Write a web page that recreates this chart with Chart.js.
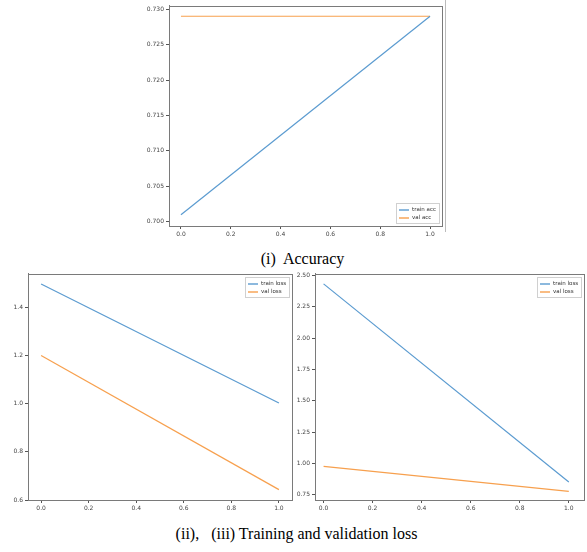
<!DOCTYPE html>
<html>
<head>
<meta charset="utf-8">
<script src="https://cdn.jsdelivr.net/npm/chart.js@4.4.1/dist/chart.umd.min.js"></script>
<style>
    body { margin: 0; background: #fff; width: 587px; height: 552px; position: relative; overflow: hidden; }
    canvas { position: absolute; }
    .caption { position: absolute; left: 0; width: 587px; text-align: center; font-family: "Liberation Serif", serif; font-size: 16px; color: #000; white-space: pre; }
    .edge { position: absolute; left: 445px; top: 0; width: 1px; height: 232px; background: #bbb; }
</style>
</head>
<body>
<canvas id="accChart" width="310" height="240" style="left:140px; top:0px;"></canvas>
<div class="edge"></div>
<div class="caption" style="top:250px; left:9px;">(i)  Accuracy</div>
<canvas id="lossChartA" width="295" height="244" style="left:0px; top:268px;"></canvas>
<canvas id="lossChartB" width="292" height="244" style="left:295px; top:268px;"></canvas>
<div class="caption" style="top:525px; left:3px;">(ii),   (iii) Training and validation loss</div>
<script>
const epochs = [0, 1];
const xTicks = [0, 0.2, 0.4, 0.6, 0.8, 1.0];

const trainAcc = [0.701, 0.729];
const valAcc = [0.729, 0.729];
const accTicks = [0.700, 0.705, 0.710, 0.715, 0.720, 0.725, 0.730];

const trainLossA = [1.497, 1.003];
const valLossA = [1.2, 0.643];
const lossTicksA = [0.6, 0.8, 1.0, 1.2, 1.4];

const trainLossB = [2.434, 0.852];
const valLossB = [0.976, 0.777];
const lossTicksB = [0.75, 1.00, 1.25, 1.50, 1.75, 2.00, 2.25, 2.50];

const BLUE = '#5b9bd0';
const ORANGE = '#f7a04e';
const FRAME = '#7a7a7a';

// full box around the plot, like matplotlib axes
const framePlugin = {
    id: 'frame',
    afterDatasetsDraw(chart) {
        const a = chart.chartArea;
        const ctx = chart.ctx;
        ctx.save();
        ctx.strokeStyle = FRAME;
        ctx.lineWidth = 1;
        ctx.strokeRect(Math.round(a.left) + 0.5, Math.round(a.top) + 0.5,
            Math.round(a.right - a.left), Math.round(a.bottom - a.top));
        ctx.restore();
    }
};

// legend drawn inside the plot
const innerLegend = {
    id: 'innerLegend',
    afterDraw(chart, args, opts) {
        const a = chart.chartArea;
        const ctx = chart.ctx;
        const sets = chart.data.datasets;
        ctx.save();
        ctx.font = opts.fontSize + 'px "DejaVu Sans"';
        const textW = Math.max(...sets.map(d => ctx.measureText(d.label).width));
        const handle = 10, rowH = 8;
        const w = Math.round(3 + handle + 3 + textW + 3);
        const h = 3 + sets.length * rowH + 1;
        const x = Math.round(a.right - 3 - w);
        const y = opts.corner === 'lower' ? Math.round(a.bottom - 3 - h) : Math.round(a.top + 3);
        ctx.fillStyle = 'rgba(255,255,255,0.9)';
        ctx.fillRect(x, y, w, h);
        ctx.strokeStyle = '#d0d0d0';
        ctx.strokeRect(x + 0.5, y + 0.5, w, h);
        sets.forEach((d, i) => {
            const cy = y + 3 + i * rowH + rowH / 2;
            ctx.strokeStyle = d.borderColor;
            ctx.lineWidth = 1.4;
            ctx.beginPath();
            ctx.moveTo(x + 3, cy);
            ctx.lineTo(x + 3 + handle, cy);
            ctx.stroke();
            ctx.fillStyle = '#333';
            ctx.textBaseline = 'middle';
            ctx.fillText(d.label, x + 3 + handle + 3, cy);
        });
        ctx.restore();
    }
};

function toPoints(values) {
    return epochs.map((e, i) => ({ x: e, y: values[i] }));
}

function axisStyle(ticks, decimals, size) {
    return {
        type: 'linear',
        afterBuildTicks: scale => { scale.ticks = ticks.map(v => ({ value: v })); },
        ticks: {
            callback: v => Number(v).toFixed(decimals),
            font: { family: 'DejaVu Sans', size: 6 },
            color: '#444',
            padding: 2,
            autoSkip: false,
            maxRotation: 0
        },
        grid: { display: true, drawOnChartArea: false, drawTicks: true, tickLength: 3, color: '#555' },
        border: { display: true, color: FRAME },
        afterFit: scale => {
            if (scale.isHorizontal()) { scale.height = size; } else { scale.width = size; }
        }
    };
}

function makeChart(id, series, yTicks, yDecimals, cfg) {
    return new Chart(id, {
        type: 'line',
        data: {
            datasets: series.map(s => ({
                label: s.label,
                data: toPoints(s.values),
                borderColor: s.color,
                borderWidth: 1.2,
                pointRadius: 0,
                tension: 0,
                fill: false
            }))
        },
        options: {
            responsive: false,
            animation: false,
            devicePixelRatio: 1,
            layout: { padding: { left: 0, top: cfg.padTop, right: cfg.padRight, bottom: 0 } },
            plugins: {
                legend: { display: false },
                tooltip: { enabled: false },
                innerLegend: { corner: cfg.legendCorner, fontSize: 5.5 }
            },
            scales: {
                x: Object.assign(axisStyle(xTicks, 1, cfg.xHeight), { min: cfg.xRange[0], max: cfg.xRange[1] }),
                y: Object.assign(axisStyle(yTicks, yDecimals, cfg.yWidth), { min: cfg.yRange[0], max: cfg.yRange[1] })
            }
        },
        plugins: [framePlugin, innerLegend]
    });
}

makeChart('accChart', [
    { label: 'train acc', values: trainAcc, color: BLUE },
    { label: 'val acc', values: valAcc, color: ORANGE }
], accTicks, 3, {
    padTop: 3, padRight: 8, xHeight: 14, yWidth: 29,
    xRange: [-0.048, 1.048], yRange: [0.6994, 0.7305], legendCorner: 'lower'
});

makeChart('lossChartA', [
    { label: 'train loss', values: trainLossA, color: BLUE },
    { label: 'val loss', values: valLossA, color: ORANGE }
], lossTicksA, 1, {
    padTop: 4, padRight: 3, xHeight: 12, yWidth: 28,
    xRange: [-0.055, 1.055], yRange: [0.6, 1.54], legendCorner: 'upper'
});

makeChart('lossChartB', [
    { label: 'train loss', values: trainLossB, color: BLUE },
    { label: 'val loss', values: valLossB, color: ORANGE }
], lossTicksB, 2, {
    padTop: 5, padRight: 3, xHeight: 12, yWidth: 20,
    xRange: [-0.035, 1.062], yRange: [0.708, 2.516], legendCorner: 'upper'
});
</script>
</body>
</html>
